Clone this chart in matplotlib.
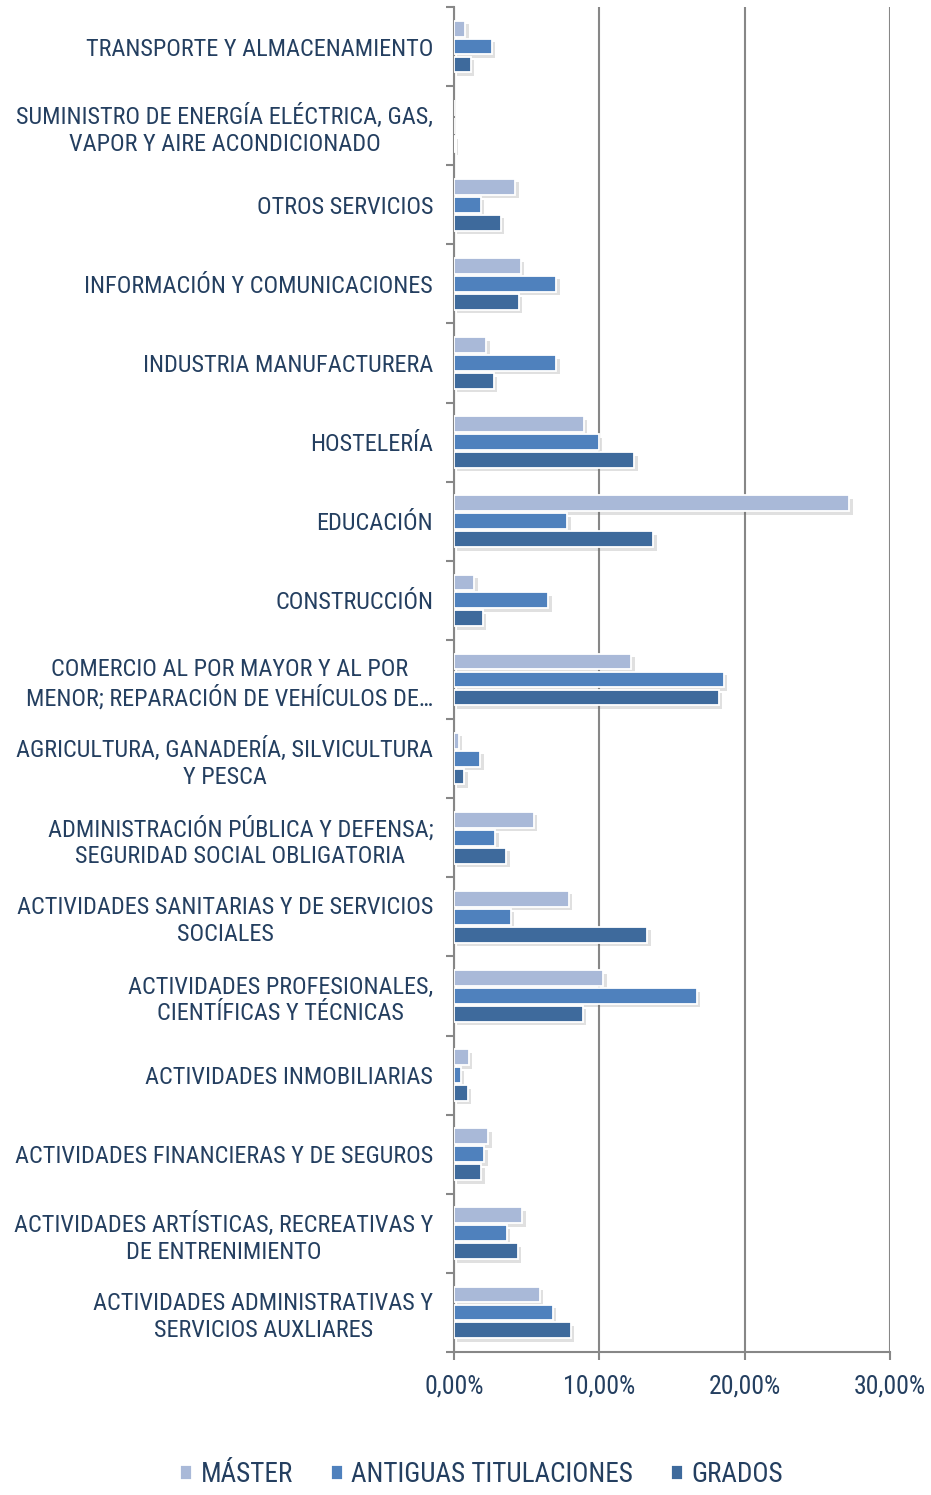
import matplotlib
matplotlib.use('Agg')
import matplotlib.pyplot as plt
import matplotlib.patheffects as pe
from matplotlib.ticker import FuncFormatter, FixedLocator
import numpy as np

plt.rcParams['font.family'] = ['Liberation Sans Narrow', 'Arial Narrow', 'Roboto Condensed',
                               'Archivo Narrow', 'PT Sans Narrow', 'DejaVu Sans']

# categories, bottom to top (same order as the source sheet)
categories = [
    'ACTIVIDADES ADMINISTRATIVAS Y\nSERVICIOS AUXLIARES',
    'ACTIVIDADES ARTÍSTICAS, RECREATIVAS Y\nDE ENTRENIMIENTO',
    'ACTIVIDADES FINANCIERAS Y DE SEGUROS',
    'ACTIVIDADES INMOBILIARIAS',
    'ACTIVIDADES PROFESIONALES,\nCIENTÍFICAS Y TÉCNICAS',
    'ACTIVIDADES SANITARIAS Y DE SERVICIOS\nSOCIALES',
    'ADMINISTRACIÓN PÚBLICA Y DEFENSA;\nSEGURIDAD SOCIAL OBLIGATORIA',
    'AGRICULTURA, GANADERÍA, SILVICULTURA\nY PESCA',
    'COMERCIO AL POR MAYOR Y AL POR\nMENOR; REPARACIÓN DE VEHÍCULOS DE…',
    'CONSTRUCCIÓN',
    'EDUCACIÓN',
    'HOSTELERÍA',
    'INDUSTRIA MANUFACTURERA',
    'INFORMACIÓN Y COMUNICACIONES',
    'OTROS SERVICIOS',
    'SUMINISTRO DE ENERGÍA ELÉCTRICA, GAS,\nVAPOR Y AIRE ACONDICIONADO',
    'TRANSPORTE Y ALMACENAMIENTO',
]

master = [5.9, 4.7, 2.36, 1.03, 10.27, 7.88, 5.5, 0.34, 12.2, 1.4, 27.2, 8.93, 2.22, 4.58, 4.2, 0.0, 0.76]
antiguas = [6.78, 3.64, 2.08, 0.48, 16.7, 3.92, 2.84, 1.8, 18.55, 6.5, 7.8, 9.97, 7.05, 7.05, 1.83, 0.0, 2.6]
grados = [8.02, 4.38, 1.86, 0.94, 8.86, 13.3, 3.6, 0.69, 18.2, 1.97, 13.7, 12.4, 2.75, 4.47, 3.2, 0.05, 1.17]

series = [('MÁSTER', master, '#A9B9D8'),
          ('ANTIGUAS TITULACIONES', antiguas, '#4F81BD'),
          ('GRADOS', grados, '#3E6A9C')]

text_col = '#243F60'
grid_col = '#878787'

fig = plt.figure(figsize=(9.31, 14.95), dpi=100)
ax = fig.add_axes([454 / 931, 1 - 1352 / 1495, (890 - 454) / 931, (1352 - 7) / 1495])

y = np.arange(len(categories))
h = 0.2
step = 0.227
all_bars = []
for i, (name, vals, col) in enumerate(series):
    bars = ax.barh(y + (1 - i) * step, vals, height=h, color=col, edgecolor='white',
                   linewidth=1.3, label=name, zorder=3)
    all_bars.extend(bars)

ax.set_xlim(0, 30)
ax.set_ylim(-0.5, len(categories) - 0.5)
ax.set_xticks([0, 10, 20, 30])
ax.xaxis.set_major_formatter(FuncFormatter(lambda v, p: f'{v:.2f}'.replace('.', ',') + '%'))
ax.grid(axis='x', color=grid_col, linewidth=1.5, zorder=0)
ax.set_axisbelow(True)

ax.set_yticks(y)
ax.set_yticklabels(categories)
ax.yaxis.set_minor_locator(FixedLocator(np.arange(-0.5, len(categories), 1.0)))
ax.tick_params(axis='y', which='major', length=0, pad=15, labelsize=17.5, labelcolor=text_col)
ax.tick_params(axis='y', which='minor', length=6, width=1.5, color=grid_col, direction='out')
ax.tick_params(axis='x', length=6, width=1.5, color=grid_col, labelsize=18.5,
               labelcolor=text_col, pad=10)
for lab in ax.get_yticklabels():
    lab.set_multialignment('center')
    lab.set_linespacing(1.22)

for s in ['top', 'right']:
    ax.spines[s].set_visible(False)
for s in ['left', 'bottom']:
    ax.spines[s].set_color(grid_col)
    ax.spines[s].set_linewidth(1.5)

leg = fig.legend(loc='lower center', bbox_to_anchor=(0.517, -0.008), ncol=3, frameon=False,
                 fontsize=19.5, handlelength=0.45, handleheight=0.45, handletextpad=0.3,
                 columnspacing=1.4, borderpad=0.2)
for t in leg.get_texts():
    t.set_color(text_col)

# soft drop shadow on the bars only (set after the legend so the keys stay flat)
shadow = [pe.SimplePatchShadow(offset=(2.5, -2.5), alpha=0.2, shadow_rgbFace='#666666'), pe.Normal()]
for b in all_bars:
    b.set_path_effects(shadow)

fig.savefig('out.png', dpi=100)
